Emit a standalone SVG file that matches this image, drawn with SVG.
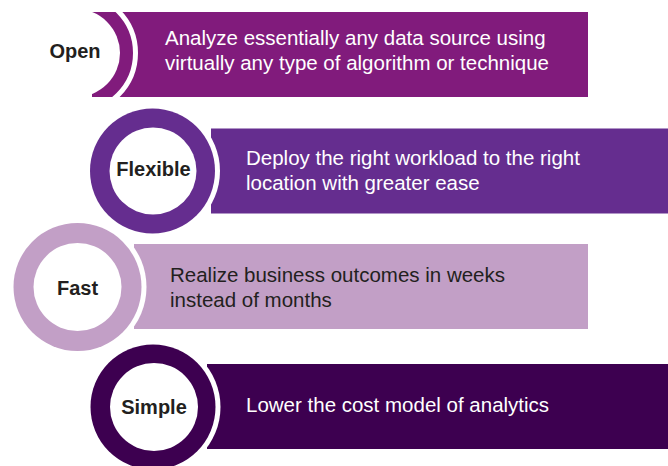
<svg xmlns="http://www.w3.org/2000/svg" width="668" height="466" viewBox="0 0 668 466">
<style>
  .body{font-family:"Liberation Sans",Arial,sans-serif;font-size:20.5px;}
  .lbl{font-family:"Liberation Sans",Arial,sans-serif;font-size:20px;font-weight:bold;fill:#231F20;text-anchor:middle;}
  .w{fill:#FFFFFF;}
  .d{fill:#231F20;}
  .gap{fill:#FFFFFF;}
  .hole{fill:#FFFFFF;}
</style>
<rect width="668" height="466" fill="#FFFFFF"/>
<g id="open">
  <rect x="92" y="12" width="496" height="85" fill="#811B7C"/>
  <circle cx="76" cy="53" r="59.5" fill="none" stroke="#FFFFFF" stroke-width="5"/>
  <circle cx="76" cy="53" r="44" class="hole"/>
  <text x="75" y="58" class="lbl">Open</text>
  <text class="body w" x="165" y="44.5">Analyze essentially any data source using</text>
  <text class="body w" x="165" y="69.5">virtually any type of algorithm or technique</text>
</g>
<g id="flexible">
  <rect x="211" y="128.5" width="457" height="85" fill="#652D8F"/>
  <circle cx="152.5" cy="171" r="67.5" class="gap"/>
  <circle cx="152.5" cy="171" r="62.5" fill="#652D8F"/>
  <circle cx="153" cy="171" r="43.5" class="hole"/>
  <text x="153.5" y="176" class="lbl">Flexible</text>
  <text class="body w" x="246" y="165">Deploy the right workload to the right</text>
  <text class="body w" x="246" y="190">location with greater ease</text>
</g>
<g id="fast">
  <rect x="134" y="244" width="454" height="85" fill="#C29FC6"/>
  <circle cx="77.5" cy="287" r="69" class="gap"/>
  <circle cx="77.5" cy="287" r="64" fill="#C29FC6"/>
  <circle cx="77.5" cy="287" r="44" class="hole"/>
  <text x="77.5" y="295" class="lbl">Fast</text>
  <text class="body d" x="170" y="282">Realize business outcomes in weeks</text>
  <text class="body d" x="170" y="307">instead of months</text>
</g>
<g id="simple">
  <rect x="207" y="364" width="461" height="85" fill="#3D0050"/>
  <circle cx="153" cy="407" r="67.5" class="gap"/>
  <circle cx="153" cy="407" r="62.5" fill="#3D0050"/>
  <circle cx="154" cy="407" r="44" class="hole"/>
  <text x="154" y="414" class="lbl">Simple</text>
  <text class="body w" x="246" y="412">Lower the cost model of analytics</text>
</g>
<g id="connectors"/>
</svg>
